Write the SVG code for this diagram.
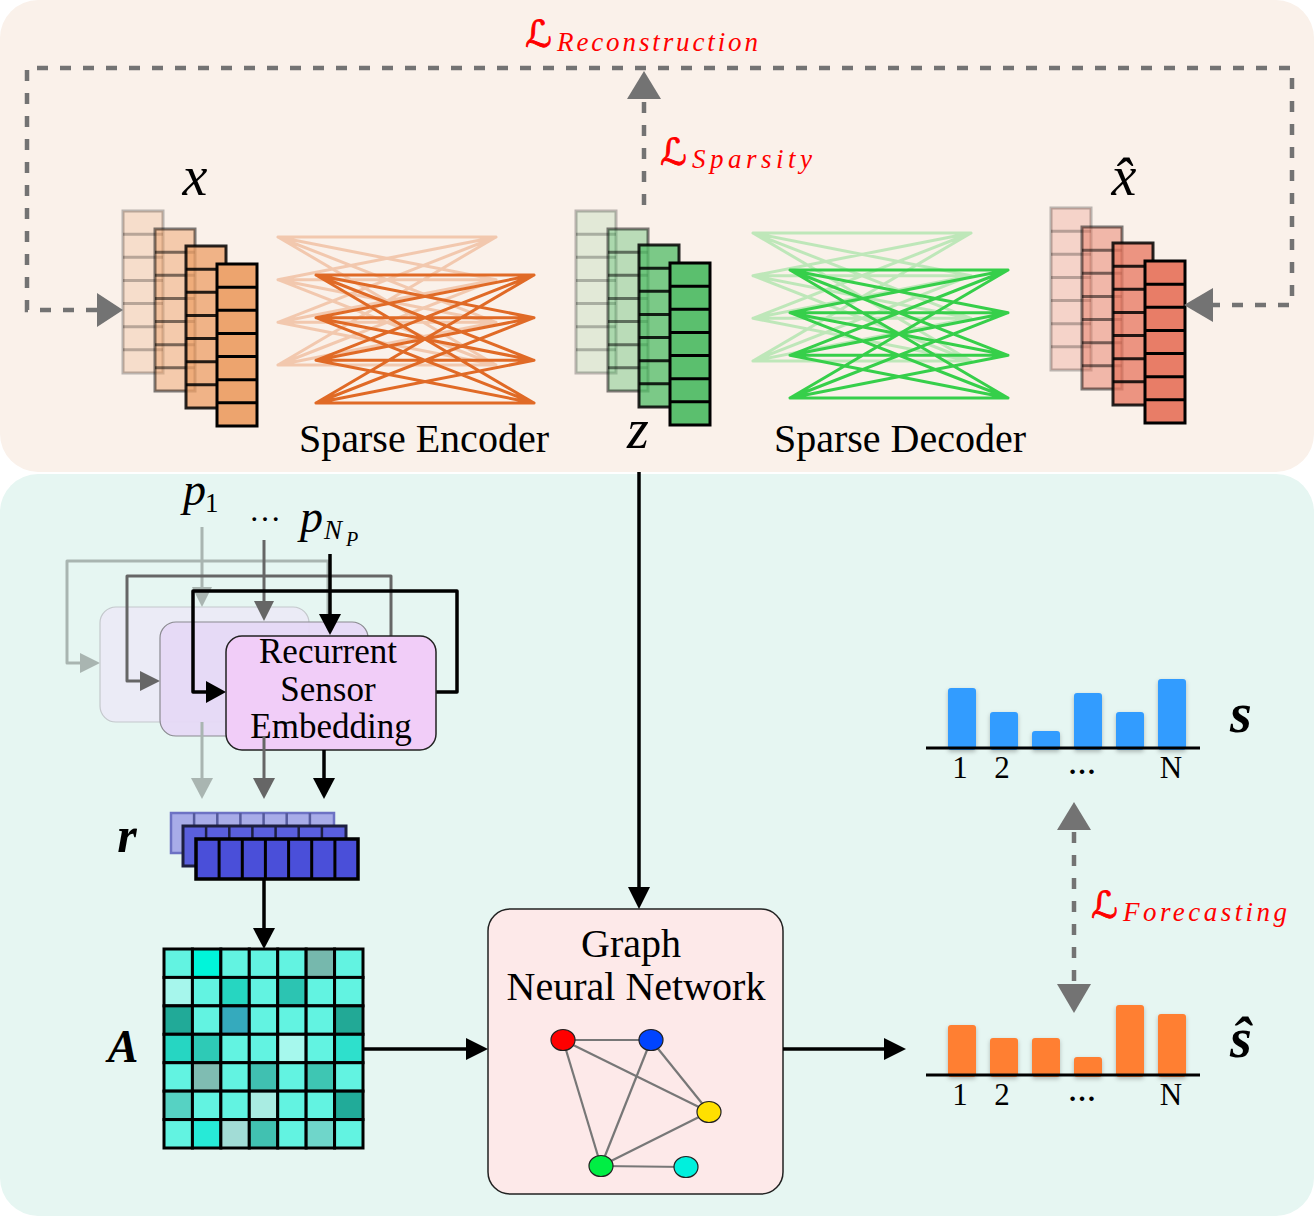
<svg xmlns="http://www.w3.org/2000/svg" xmlns:xlink="http://www.w3.org/1999/xlink" width="1314" height="1216" viewBox="0 0 1314 1216">
<style>
.serif{font-family:"Liberation Serif","Times New Roman",serif;fill:#000}
.math{font-family:"Liberation Serif","Times New Roman",serif;font-style:italic;fill:#000}
.mathb{font-family:"Liberation Serif","Times New Roman",serif;font-style:italic;font-weight:bold;fill:#000}
.cal{font-family:"DejaVu Serif","DejaVu Sans",serif;fill:#ff0000;stroke:#ff0000;stroke-width:0.9;font-size:37px}
.sub{font-family:"Liberation Serif","Times New Roman",serif;font-style:italic;fill:#ff0000;font-size:27px}
.dash{fill:none;stroke:#737373;stroke-width:4.5;stroke-dasharray:11 12}
.ah{fill:#737373}
.blk{fill:none;stroke:#000;stroke-width:3.5}
.enc{fill:none;stroke:#e06a26;stroke-width:3;stroke-linecap:round}
.dec{fill:none;stroke:#36cf4a;stroke-width:3;stroke-linecap:round}
.bar-s{fill:#339cff}
.bar-h{fill:#ff7f32}
.axis{stroke:#000;stroke-width:3}
.edge{stroke:#777;stroke-width:2.2}
.gn{stroke:#222;stroke-width:1.2}
</style>
<defs>
<g id="col">
<rect x="0" y="0" width="40" height="162"/>
<path d="M0 23.14h40M0 46.29h40M0 69.43h40M0 92.57h40M0 115.71h40M0 138.86h40" fill="none"/>
</g>
<path id="bip" d="M0 0L218 0M0 0L218 42.7M0 0L218 85.3M0 0L218 128M0 42.7L218 0M0 42.7L218 42.7M0 42.7L218 85.3M0 42.7L218 128M0 85.3L218 0M0 85.3L218 42.7M0 85.3L218 85.3M0 85.3L218 128M0 128L218 0M0 128L218 42.7M0 128L218 85.3M0 128L218 128"/>
<filter id="sh" x="-20%" y="-20%" width="140%" height="140%">
<feDropShadow dx="0" dy="2" stdDeviation="2" flood-color="#000" flood-opacity="0.25"/>
</filter>
</defs>

<rect x="0" y="0" width="1314" height="1216" fill="#ffffff"/>
<g id="panel-top"><rect x="0" y="0" width="1314" height="472" rx="38" fill="#faf1ea"/></g>
<g id="panel-bottom"><rect x="0" y="474" width="1314" height="742" rx="38" fill="#e6f6f2"/></g>

<g id="stack-x" stroke-width="3">
<use href="#col" x="123" y="211" fill="#eda46e" fill-opacity="0.25" stroke="#000" stroke-opacity="0.25"/>
<use href="#col" x="155" y="229" fill="#eda46e" fill-opacity="0.5" stroke="#000" stroke-opacity="0.5"/>
<use href="#col" x="186" y="246" fill="#eda46e" fill-opacity="0.8" stroke="#000" stroke-opacity="0.85"/>
<use href="#col" x="217" y="264" fill="#eda46e" stroke="#000"/>
<text class="math" x="195" y="195" font-size="56" text-anchor="middle">x</text>
</g>

<g id="encoder">
<use href="#bip" x="278" y="237" class="enc" opacity="0.3"/>
<use href="#bip" x="316" y="275" class="enc"/>
<text class="serif" x="424" y="452" font-size="40" text-anchor="middle">Sparse Encoder</text>
</g>

<g id="stack-z" stroke-width="3">
<use href="#col" x="576" y="211" fill="#5bbf6e" fill-opacity="0.15" stroke="#000" stroke-opacity="0.25"/>
<use href="#col" x="608" y="229" fill="#5bbf6e" fill-opacity="0.4" stroke="#000" stroke-opacity="0.5"/>
<use href="#col" x="639" y="245" fill="#5bbf6e" fill-opacity="0.8" stroke="#000" stroke-opacity="0.85"/>
<use href="#col" x="670" y="263" fill="#5bbf6e" stroke="#000"/>
<text class="math" x="638" y="448" font-size="56" text-anchor="middle">z</text>
</g>

<g id="decoder">
<use href="#bip" x="753" y="233" class="dec" opacity="0.3"/>
<use href="#bip" x="790" y="270" class="dec"/>
<text class="serif" x="900" y="452" font-size="40" text-anchor="middle">Sparse Decoder</text>
</g>

<g id="stack-xhat" stroke-width="3">
<use href="#col" x="1051" y="208" fill="#e87d67" fill-opacity="0.25" stroke="#000" stroke-opacity="0.25"/>
<use href="#col" x="1082" y="227" fill="#e87d67" fill-opacity="0.5" stroke="#000" stroke-opacity="0.5"/>
<use href="#col" x="1113" y="243" fill="#e87d67" fill-opacity="0.8" stroke="#000" stroke-opacity="0.85"/>
<use href="#col" x="1145" y="261" fill="#e87d67" stroke="#000"/>
<text class="math" x="1124" y="195" font-size="56" text-anchor="middle">x̂</text>
</g>

<g id="rse">
<path d="M309 665H328V561H67V663H82" fill="none" stroke="#a9b5b1" stroke-width="3" stroke-linejoin="round"/>
<polygon points="100,663 80,653 80,673" fill="#a9b5b1"/>
<line x1="202" y1="527" x2="202" y2="590" stroke="#a9b5b1" stroke-width="3"/>
<polygon points="202,607 192,587 212,587" fill="#a9b5b1"/>
<rect x="100" y="607" width="209" height="115" rx="16" fill="#ebebf6" stroke="#c4c8cc" stroke-width="1.2"/>

<path d="M368 681H391V576H127V681H142" fill="none" stroke="#666" stroke-width="3" stroke-linejoin="round"/>
<polygon points="160,681 140,671 140,691" fill="#666"/>
<line x1="264" y1="540" x2="264" y2="603" stroke="#666" stroke-width="3"/>
<polygon points="264,621 254,601 274,601" fill="#666"/>
<rect x="160" y="622" width="208" height="114" rx="16" fill="#e6d9f5" fill-opacity="0.95" stroke="#8a8a90" stroke-width="1.2"/>

<path d="M436 692H457V591H193V692H208" fill="none" stroke="#000" stroke-width="3.5" stroke-linejoin="round"/>
<polygon points="226,692 206,681 206,703" fill="#000"/>
<line x1="330" y1="554" x2="330" y2="617" stroke="#000" stroke-width="3.5"/>
<polygon points="330,635 319,614 341,614" fill="#000"/>
<rect x="226" y="636" width="210" height="114" rx="16" fill="#f1cdf8" stroke="#222" stroke-width="1.5"/>
<text class="serif" x="328" y="663" font-size="35" text-anchor="middle">Recurrent</text>
<text class="serif" x="328" y="701" font-size="35" text-anchor="middle">Sensor</text>
<text class="serif" x="331" y="738" font-size="35" text-anchor="middle">Embedding</text>

<line x1="202" y1="722" x2="202" y2="780" stroke="#a9b5b1" stroke-width="3"/>
<polygon points="202,799 191,778 213,778" fill="#a9b5b1"/>
<line x1="264" y1="736" x2="264" y2="780" stroke="#666" stroke-width="3"/>
<polygon points="264,799 253,778 275,778" fill="#666"/>
<line x1="324" y1="750" x2="324" y2="780" stroke="#000" stroke-width="3.5"/>
<polygon points="324,799 313,778 335,778" fill="#000"/>

<text class="math" x="183" y="505" font-size="46">p</text>
<text class="serif" x="205" y="512" font-size="27">1</text>
<text class="serif" x="265" y="521" font-size="32" text-anchor="middle">…</text>
<text class="math" x="300" y="532" font-size="46">p</text>
<text class="math" x="324" y="539" font-size="27">N</text>
<text class="math" x="346" y="546" font-size="20">P</text>
</g>

<g id="r">
<rect x="171" y="813" width="163" height="40" fill="#a8ace8" stroke="#6d72c4" stroke-width="2.5"/>
<path d="M194.1 813v40M217.3 813v40M240.4 813v40M263.6 813v40M286.7 813v40M309.9 813v40" stroke="#555a9c" stroke-width="2.5"/>
<rect x="183" y="826" width="163" height="40" fill="#5a5fdd" stroke="#1d1f40" stroke-width="3"/>
<path d="M206.1 826v40M229.3 826v40M252.4 826v40M275.6 826v40M298.7 826v40M321.9 826v40" stroke="#1d1f40" stroke-width="2.5"/>
<rect x="196" y="839" width="162" height="40" fill="#4a4fd9" stroke="#000" stroke-width="3.5"/>
<path d="M219.1 839v40M242.3 839v40M265.4 839v40M288.6 839v40M311.7 839v40M334.9 839v40" stroke="#000" stroke-width="3"/>
<text class="mathb" x="127" y="852" font-size="50" text-anchor="middle">r</text>
</g>

<g id="A">
<g stroke="#000" stroke-width="3">
<rect x="164" y="949" width="28.43" height="28.43" fill="#62f3e1"/>
<rect x="192.43" y="949" width="28.43" height="28.43" fill="#00f5da"/>
<rect x="220.86" y="949" width="28.43" height="28.43" fill="#62f3e1"/>
<rect x="249.29" y="949" width="28.43" height="28.43" fill="#62f3e1"/>
<rect x="277.71" y="949" width="28.43" height="28.43" fill="#62f3e1"/>
<rect x="306.14" y="949" width="28.43" height="28.43" fill="#76b8ad"/>
<rect x="334.57" y="949" width="28.43" height="28.43" fill="#62f3e1"/>

<rect x="164" y="977.43" width="28.43" height="28.43" fill="#a6f6ec"/>
<rect x="192.43" y="977.43" width="28.43" height="28.43" fill="#62f3e1"/>
<rect x="220.86" y="977.43" width="28.43" height="28.43" fill="#26d6c1"/>
<rect x="249.29" y="977.43" width="28.43" height="28.43" fill="#62f3e1"/>
<rect x="277.71" y="977.43" width="28.43" height="28.43" fill="#2cc4b2"/>
<rect x="306.14" y="977.43" width="28.43" height="28.43" fill="#62f3e1"/>
<rect x="334.57" y="977.43" width="28.43" height="28.43" fill="#62f3e1"/>

<rect x="164" y="1005.86" width="28.43" height="28.43" fill="#21aa98"/>
<rect x="192.43" y="1005.86" width="28.43" height="28.43" fill="#62f3e1"/>
<rect x="220.86" y="1005.86" width="28.43" height="28.43" fill="#35aabd"/>
<rect x="249.29" y="1005.86" width="28.43" height="28.43" fill="#62f3e1"/>
<rect x="277.71" y="1005.86" width="28.43" height="28.43" fill="#62f3e1"/>
<rect x="306.14" y="1005.86" width="28.43" height="28.43" fill="#62f3e1"/>
<rect x="334.57" y="1005.86" width="28.43" height="28.43" fill="#22a996"/>

<rect x="164" y="1034.29" width="28.43" height="28.43" fill="#26d6c2"/>
<rect x="192.43" y="1034.29" width="28.43" height="28.43" fill="#2ecab6"/>
<rect x="220.86" y="1034.29" width="28.43" height="28.43" fill="#62f3e1"/>
<rect x="249.29" y="1034.29" width="28.43" height="28.43" fill="#62f3e1"/>
<rect x="277.71" y="1034.29" width="28.43" height="28.43" fill="#a6f8ed"/>
<rect x="306.14" y="1034.29" width="28.43" height="28.43" fill="#62f3e1"/>
<rect x="334.57" y="1034.29" width="28.43" height="28.43" fill="#2ee0cc"/>

<rect x="164" y="1062.71" width="28.43" height="28.43" fill="#62f3e1"/>
<rect x="192.43" y="1062.71" width="28.43" height="28.43" fill="#7fbcb2"/>
<rect x="220.86" y="1062.71" width="28.43" height="28.43" fill="#62f3e1"/>
<rect x="249.29" y="1062.71" width="28.43" height="28.43" fill="#40c0b1"/>
<rect x="277.71" y="1062.71" width="28.43" height="28.43" fill="#62f3e1"/>
<rect x="306.14" y="1062.71" width="28.43" height="28.43" fill="#3ec6b3"/>
<rect x="334.57" y="1062.71" width="28.43" height="28.43" fill="#62f3e1"/>

<rect x="164" y="1091.14" width="28.43" height="28.43" fill="#56d2c3"/>
<rect x="192.43" y="1091.14" width="28.43" height="28.43" fill="#62f3e1"/>
<rect x="220.86" y="1091.14" width="28.43" height="28.43" fill="#62f3e1"/>
<rect x="249.29" y="1091.14" width="28.43" height="28.43" fill="#a9ece2"/>
<rect x="277.71" y="1091.14" width="28.43" height="28.43" fill="#62f3e1"/>
<rect x="306.14" y="1091.14" width="28.43" height="28.43" fill="#62f3e1"/>
<rect x="334.57" y="1091.14" width="28.43" height="28.43" fill="#21ab99"/>

<rect x="164" y="1119.57" width="28.43" height="28.43" fill="#62f3e1"/>
<rect x="192.43" y="1119.57" width="28.43" height="28.43" fill="#27ead7"/>
<rect x="220.86" y="1119.57" width="28.43" height="28.43" fill="#a2dcd6"/>
<rect x="249.29" y="1119.57" width="28.43" height="28.43" fill="#41c1b1"/>
<rect x="277.71" y="1119.57" width="28.43" height="28.43" fill="#62f3e1"/>
<rect x="306.14" y="1119.57" width="28.43" height="28.43" fill="#6fd6ca"/>
<rect x="334.57" y="1119.57" width="28.43" height="28.43" fill="#62f3e1"/>
</g>
<text class="mathb" x="123" y="1062" font-size="46" text-anchor="middle">A</text>
</g>

<g id="gnn">
<rect x="488" y="909" width="295" height="285" rx="22" fill="#fde9e9" stroke="#222" stroke-width="1.5"/>
<text class="serif" x="631" y="957" font-size="40" text-anchor="middle">Graph</text>
<text class="serif" x="636" y="1000" font-size="40" text-anchor="middle">Neural Network</text>
<g class="edge">
<line x1="563" y1="1040" x2="651" y2="1040"/>
<line x1="563" y1="1040" x2="709" y2="1112"/>
<line x1="563" y1="1040" x2="601" y2="1166"/>
<line x1="651" y1="1040" x2="601" y2="1166"/>
<line x1="651" y1="1040" x2="709" y2="1112"/>
<line x1="709" y1="1112" x2="601" y2="1166"/>
<line x1="601" y1="1166" x2="686" y2="1167"/>
</g>
<g class="gn">
<ellipse cx="563" cy="1040" rx="12" ry="10.5" fill="#ff0000"/>
<ellipse cx="651" cy="1040" rx="12" ry="10.5" fill="#0044ff"/>
<ellipse cx="709" cy="1112" rx="12" ry="10.5" fill="#ffe000"/>
<ellipse cx="601" cy="1166" rx="12" ry="10.5" fill="#00ee44"/>
<ellipse cx="686" cy="1167" rx="12" ry="10.5" fill="#00f0dd"/>
</g>
</g>

<g id="bars-s">
<g class="bar-s" filter="url(#sh)">
<rect x="948" y="688" width="28" height="62" rx="3"/>
<rect x="990" y="712" width="28" height="38" rx="3"/>
<rect x="1032" y="731" width="28" height="19" rx="3"/>
<rect x="1074" y="693" width="28" height="57" rx="3"/>
<rect x="1116" y="712" width="28" height="38" rx="3"/>
<rect x="1158" y="679" width="28" height="71" rx="3"/>
</g>
<line class="axis" x1="926" y1="748" x2="1200" y2="748"/>
<text class="serif" x="960" y="778" font-size="31" text-anchor="middle">1</text>
<text class="serif" x="1002" y="778" font-size="31" text-anchor="middle">2</text>
<text class="serif" x="1082" y="774" font-size="28" text-anchor="middle" font-weight="bold">…</text>
<text class="serif" x="1171" y="778" font-size="31" text-anchor="middle">N</text>
<text class="mathb" x="1241" y="732" font-size="56" text-anchor="middle">s</text>
</g>

<g id="bars-shat">
<g class="bar-h" filter="url(#sh)">
<rect x="948" y="1025" width="28" height="52" rx="3"/>
<rect x="990" y="1038" width="28" height="39" rx="3"/>
<rect x="1032" y="1038" width="28" height="39" rx="3"/>
<rect x="1074" y="1057" width="28" height="20" rx="3"/>
<rect x="1116" y="1005" width="28" height="72" rx="3"/>
<rect x="1158" y="1014" width="28" height="63" rx="3"/>
</g>
<line class="axis" x1="926" y1="1075" x2="1200" y2="1075"/>
<text class="serif" x="960" y="1105" font-size="31" text-anchor="middle">1</text>
<text class="serif" x="1002" y="1105" font-size="31" text-anchor="middle">2</text>
<text class="serif" x="1082" y="1101" font-size="28" text-anchor="middle" font-weight="bold">…</text>
<text class="serif" x="1171" y="1105" font-size="31" text-anchor="middle">N</text>
<text class="mathb" x="1241" y="1057" font-size="56" text-anchor="middle">ŝ</text>
</g>

<g id="connectors">
<path class="dash" d="M97 310H27V68H1292V305H1213"/>
<polygon class="ah" points="123,310 97,293 97,327"/>
<polygon class="ah" points="1184,305 1213,288 1213,322"/>
<path class="dash" d="M644 205V99"/>
<polygon class="ah" points="644,71 627,99 661,99"/>
<path class="dash" d="M1074 832V982"/>
<polygon class="ah" points="1074,802 1057,830 1091,830"/>
<polygon class="ah" points="1074,1013 1057,984 1091,984"/>
<line class="blk" x1="639" y1="472" x2="639" y2="889"/>
<polygon points="639,909 628,887 650,887"/>
<line class="blk" x1="264" y1="879" x2="264" y2="930"/>
<polygon points="264,949 253,928 275,928"/>
<line class="blk" x1="363" y1="1049" x2="468" y2="1049"/>
<polygon points="488,1049 466,1038 466,1060"/>
<line class="blk" x1="783" y1="1049" x2="886" y2="1049"/>
<polygon points="906,1049 884,1038 884,1060"/>
</g>

<g id="loss-labels">
<text class="cal" x="525" y="47">ℒ</text>
<text class="sub" x="557" y="51" textLength="201" lengthAdjust="spacing">Reconstruction</text>
<text class="cal" x="660" y="165">ℒ</text>
<text class="sub" x="692" y="168" textLength="120" lengthAdjust="spacing">Sparsity</text>
<text class="cal" x="1091" y="918">ℒ</text>
<text class="sub" x="1123" y="921" textLength="164" lengthAdjust="spacing">Forecasting</text>
</g>
</svg>
